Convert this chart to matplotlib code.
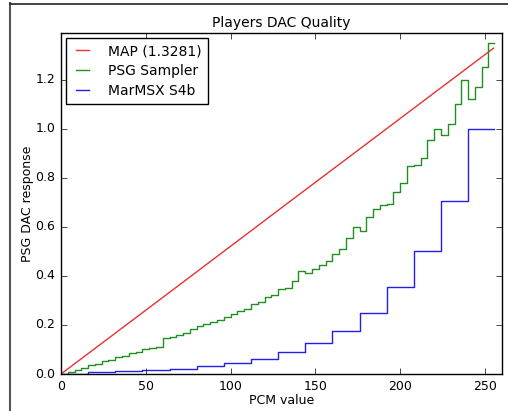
import matplotlib
matplotlib.use("Agg")
import matplotlib.pyplot as plt
from matplotlib.lines import Line2D

plt.style.use("classic")
plt.rcParams["font.family"] = ["DejaVu Sans"]

# MAP curve
map_x = [0, 64, 128, 192, 255]
map_y = [0.0, 0.333, 0.667, 1.000, 1.3281]

# PSG Sampler curve
psg_x = [0, 4, 8, 12, 16, 20, 24, 28, 32, 36, 40, 44, 48, 52, 56, 60,
         64, 68, 72, 76, 80, 84, 88, 92, 96, 100, 104, 108, 112, 116, 120, 124,
         128, 132, 136, 140, 144, 148, 152, 156, 160, 164, 168, 172, 176, 180, 184, 188,
         192, 196, 200, 204, 208, 212, 216, 220, 224, 228, 232, 236, 240, 244, 248, 252, 255]
psg_y = [0.000, 0.010, 0.018, 0.026, 0.036, 0.042, 0.052, 0.058, 0.068, 0.074, 0.084, 0.090, 0.100, 0.104, 0.112, 0.145,
         0.150, 0.160, 0.168, 0.185, 0.195, 0.202, 0.212, 0.222, 0.232, 0.244, 0.258, 0.266, 0.284, 0.292, 0.312, 0.320,
         0.345, 0.352, 0.380, 0.418, 0.412, 0.430, 0.446, 0.462, 0.490, 0.510, 0.556, 0.600, 0.582, 0.640, 0.672, 0.690,
         0.692, 0.740, 0.780, 0.848, 0.850, 0.880, 0.955, 1.000, 0.975, 1.020, 1.100, 1.200, 1.120, 1.170, 1.250, 1.350, 1.350]

# MarMSX S4b: 16 levels, one per block of 16 PCM values
s4b_x = [0, 16, 32, 48, 64, 80, 96, 112, 128, 144, 160, 176, 192, 208, 224, 240, 255]
s4b_y = [0.0, 0.0078, 0.011, 0.0156, 0.022, 0.031, 0.044, 0.0625, 0.088,
         0.125, 0.177, 0.25, 0.354, 0.5, 0.707, 1.0, 1.0]

fig = plt.figure(figsize=(5.08, 4.11), dpi=100, facecolor="white")
ax = fig.add_axes([61/508, 37/411, 441/508, 341/411])

ax.plot(map_x, map_y, color="#e83030", lw=1, label="MAP (1.3281)")
ax.plot(psg_x, psg_y, color="#1f8f1f", lw=1, drawstyle="steps-post", label="PSG Sampler")
ax.plot(s4b_x, s4b_y, color="#2020e8", lw=1, drawstyle="steps-post", label="MarMSX S4b")

ax.set_xlim(0, 260)
ax.set_ylim(0, 1.39)
ax.set_xticks([0, 50, 100, 150, 200, 250])
ax.set_yticks([0.0, 0.2, 0.4, 0.6, 0.8, 1.0, 1.2])
ax.tick_params(labelsize=9, pad=4)
ax.set_xlabel("PCM value", fontsize=9, labelpad=1)
ax.set_ylabel("PSG DAC response", fontsize=9, labelpad=1)
ax.set_title("Players DAC Quality", fontsize=10, pad=4)

ax.legend(loc="upper left", fontsize=10, handlelength=1.5, labelspacing=0.42,
          borderaxespad=0.35, borderpad=0.45, handletextpad=1.1, fancybox=False)

# screenshot frame
fig.add_artist(Line2D([10/508, 10/508], [0, 1 - 3/411], color="#555555", lw=1.5))
fig.add_artist(Line2D([10/508, 1], [1 - 4/411, 1 - 4/411], color="#222222", lw=1.2))

fig.savefig("out.png", dpi=100, facecolor="white")
